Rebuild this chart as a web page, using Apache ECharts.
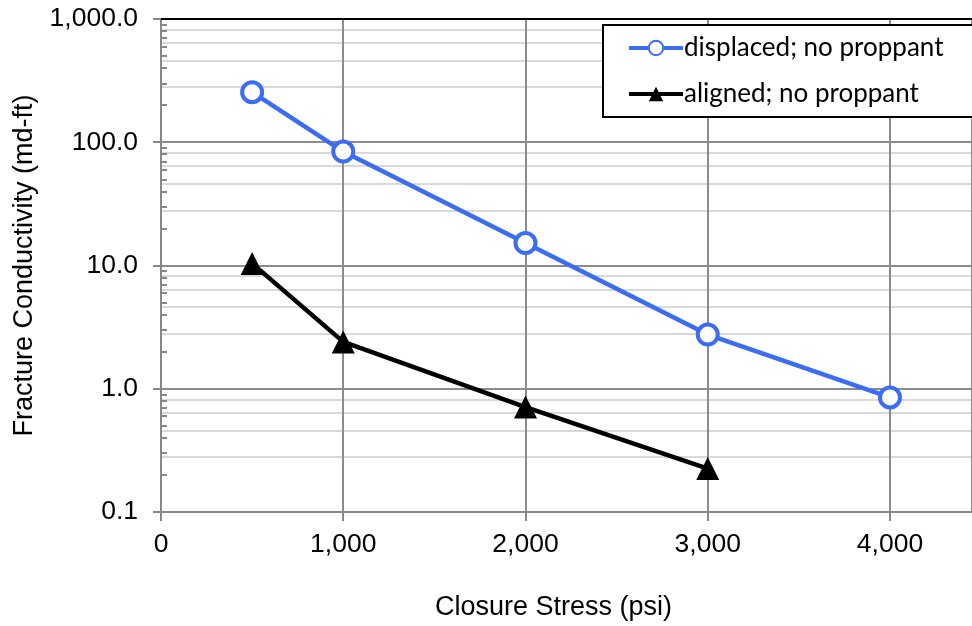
<!DOCTYPE html>
<html><head><meta charset="utf-8">
<script src="https://cdn.jsdelivr.net/npm/echarts@6/dist/echarts.min.js"></script>
<style>html,body{margin:0;padding:0;background:#fff}#c{width:972px;height:626px}</style>
</head><body><div id="c"></div>
<script>
const stress = [500, 1000, 2000, 3000, 4000];
const displaced = [255, 84, 15.2, 2.75, 0.85];
const aligned = [10.4, 2.4, 0.71, 0.225];
const seriesNames = ['displaced; no proppant', 'aligned; no proppant'];
const yTickLabels = {0.1: '0.1', 1: '1.0', 10: '10.0', 100: '100.0', 1000: '1,000.0'};
const xTitle = 'Closure Stress (psi)';
const yTitle = 'Fracture Conductivity (md-ft)';

const chart = echarts.init(document.getElementById('c'));
const axisFont = {fontFamily: 'Liberation Sans, Arial', fontSize: 26.5, color: '#000'};
chart.setOption({
  animation: false,
  grid: {left: 161, top: 19, right: 0, bottom: 114, containLabel: false, outerBoundsMode: 'none'},
  xAxis: [{
    type: 'value', min: 0, max: 4450, interval: 1000,
    axisLine: {lineStyle: {color: '#888', width: 2}},
    axisTick: {show: true, length: 9, lineStyle: {color: '#888', width: 2}},
    axisLabel: Object.assign({margin: 19, formatter: v => v.toLocaleString('en-US'), showMaxLabel: false}, axisFont),
    splitLine: {show: true, lineStyle: {color: '#8c8c8c', width: 2}}
  }, {
    type: 'value', position: 'top', min: 0, max: 4450,
    axisLine: {show: true, lineStyle: {color: '#000', width: 2}},
    axisTick: {show: false}, axisLabel: {show: false}, splitLine: {show: false}
  }],
  yAxis: [{
    type: 'log', logBase: 10, min: 0.1, max: 1000,
    axisLine: {show: true, lineStyle: {color: '#888', width: 2}},
    axisTick: {show: true, length: 8, lineStyle: {color: '#888', width: 2}},
    minorTick: {show: false},
    minorSplitLine: {show: true, lineStyle: {color: '#d9d9d9', width: 2}},
    axisLabel: Object.assign({margin: 23, formatter: v => yTickLabels[v] || ''}, axisFont),
    splitLine: {show: true, lineStyle: {color: '#8c8c8c', width: 2}},
    name: yTitle, nameLocation: 'middle', nameGap: 123,
    nameTextStyle: {fontFamily: 'Liberation Sans, Arial', fontSize: 27, color: '#000'}
  }, {
    type: 'log', logBase: 10, min: 0.1, max: 1000, position: 'left',
    axisLine: {show: false},
    axisTick: {show: false, inside: true},
    minorTick: {show: true, splitNumber: 9, length: 6, lineStyle: {color: '#888', width: 2}},
    axisLabel: {show: false}, splitLine: {show: false}, minorSplitLine: {show: false}
  }],
  graphic: [{
    type: 'text', left: 435, top: 594,
    style: {text: xTitle, font: '27px "Liberation Sans", Arial', fill: '#000'}
  }],
  legend: {
    orient: 'vertical', left: 603, top: 25, itemWidth: 54, itemHeight: 18, itemGap: 20,
    padding: [10, 200, 10, 24], borderColor: '#000', borderWidth: 2, backgroundColor: '#fff',
    lineStyle: {width: 4},
    textStyle: {fontFamily: 'Lato, Carlito, sans-serif', fontSize: 26, color: '#000', padding: [0, 0, 0, -4]},
    data: seriesNames
  },
  series: [{
    name: seriesNames[0], type: 'line',
    data: stress.map((x, i) => [x, displaced[i]]),
    symbol: 'circle', symbolSize: 20, showAllSymbol: true,
    lineStyle: {color: '#3b6cf6', width: 4.5},
    itemStyle: {color: '#fff', borderColor: '#3b6cf6', borderWidth: 4},
    z: 3
  }, {
    name: seriesNames[1], type: 'line',
    data: aligned.map((v, i) => [stress[i], v]),
    symbol: 'triangle', symbolSize: 23,
    lineStyle: {color: '#000', width: 4.5},
    itemStyle: {color: '#000'},
    z: 4
  }]
});
</script></body></html>
